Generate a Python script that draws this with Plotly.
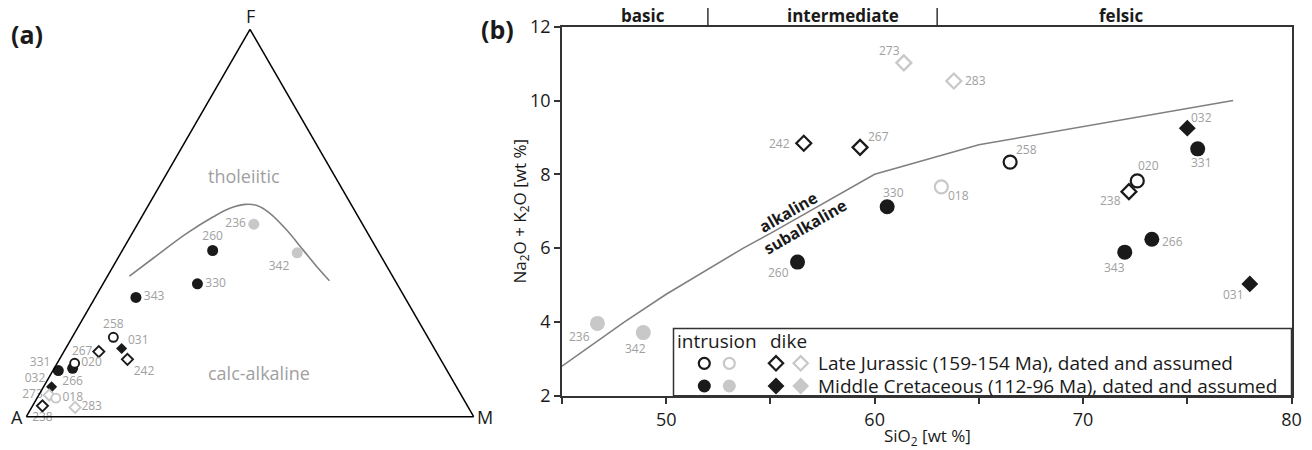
import plotly.graph_objects as go

W, H = 1312, 450
FONT = "Open Sans"
BLACK = "#1a1a1a"
GREY = "#c8c8c8"
LABEL_GREY = "#a0a0a0"
LINE_GREY = "#808080"
AX = "#333333"

# ---------------- data ----------------
samples = ["242", "267", "330", "273", "283", "258", "018", "032", "331",
           "020", "238", "266", "343", "031", "260", "236", "342"]
kind = ["dike", "dike", "intrusion", "dike", "dike", "intrusion", "intrusion", "dike", "intrusion",
        "intrusion", "dike", "intrusion", "intrusion", "dike", "intrusion", "intrusion", "intrusion"]
age = ["LJ", "LJ", "MC", "LJ", "LJ", "LJ", "LJ", "MC", "MC",
       "LJ", "LJ", "MC", "MC", "MC", "MC", "MC", "MC"]
status = ["dated", "dated", "dated", "assumed", "assumed", "dated", "assumed", "dated", "dated",
          "dated", "dated", "dated", "dated", "dated", "dated", "assumed", "assumed"]

# TAS
sio2 = [56.6, 59.3, 60.6, 61.4, 63.8, 66.5, 63.2, 75.0, 75.5,
        72.6, 72.2, 73.3, 72.0, 78.0, 56.3, 46.7, 48.9]
alkali = [8.84, 8.73, 7.12, 11.02, 10.53, 8.33, 7.66, 9.25, 8.69,
          7.82, 7.53, 6.24, 5.89, 5.03, 5.62, 3.96, 3.71]

# AFM (F, A, M in %)
afm_F = [14.8, 16.8, 34.3, 5.6, 2.4, 20.5, 4.8, 7.7, 11.9,
         13.8, 2.8, 12.5, 30.8, 17.6, 42.9, 49.7, 42.3]
afm_A = [70.0, 75.4, 44.6, 92.1, 87.9, 70.3, 91.0, 90.5, 86.9,
         82.3, 95.0, 83.4, 60.1, 69.9, 36.9, 24.3, 18.3]
afm_M = [15.2, 7.8, 21.1, 2.3, 9.7, 9.2, 4.2, 1.8, 1.2,
         3.9, 2.2, 4.1, 9.1, 12.5, 20.2, 26.0, 39.4]

# tholeiitic / calc-alkaline boundary (F, A, M)
bnd_F = [36.3, 40.9, 47.3, 51.6, 53.8, 54.8, 54.5, 52.5, 48.2, 43.0, 38.7, 35.1]
bnd_A = [58.8, 51.2, 40.5, 32.4, 27.6, 23.7, 21.2, 19.3, 17.7, 16.6, 15.7, 14.7]
bnd_M = [4.9, 7.9, 12.2, 16.0, 18.6, 21.5, 24.3, 28.2, 34.1, 40.4, 45.6, 50.2]

# alkaline / subalkaline boundary (SiO2, alkali)
alk_x = [45, 48, 50, 53.7, 55, 60, 65, 77.2]
alk_y = [2.8, 4.0, 4.75, 6.0, 6.4, 8.0, 8.8, 10.0]

x_ticks = [45, 50, 55, 60, 65, 70, 75, 80]
x_ticklabels = ["", "50", "", "60", "", "70", "", "80"]
y_ticks = [2, 4, 6, 8, 10, 12]

groups = [("basic", 45, 52), ("intermediate", 52, 63), ("felsic", 63, 80)]
group_label_x = [48.9, 58.5, 71.8]

# ---------------- styles ----------------
lab_dx = [-24, 18, 6, -14, 22, 16, 17, 14, 4, 11, -18, 21, -10, -16, -19, -18, -8]
lab_dy = [0, -11, -14, -12, 0, -13, 9, -11, 14, -15, 9, 2, 15, 11, 10, 13, 16]
afm_textpos = ["bottom right", "middle left", "middle right", "middle left", "middle right",
               "top center", "middle right", "middle left", "middle left", "middle right",
               "bottom center", "bottom center", "middle right", "middle right", "top center",
               "middle left", "bottom left"]
# labels lifted slightly above their marker (extra blank line)
afm_lift = [False, False, False, False, False, False, False, True, True,
            False, False, False, False, True, False, False, False]


def px2paper(px, py):
    return px / W, 1 - py / H


def marker_style(k, a, s, big):
    col = BLACK if s == "dated" else GREY
    sym = "circle" if k == "intrusion" else "diamond"
    if big:
        size = (13 if a == "LJ" else 15) if sym == "circle" else (11.5 if a == "LJ" else 13)
        lw = 2.2
    else:
        size = (9 if a == "LJ" else 11) if sym == "circle" else 8.5
        lw = 1.9
    if a == "LJ":
        return dict(symbol=sym, size=size, color="white", line=dict(color=col, width=lw))
    return dict(symbol=sym, size=size, color=col, line=dict(color=col, width=0))


order_keys = [("dike", "MC"), ("intrusion", "MC"), ("dike", "LJ"), ("intrusion", "LJ")]

fig = go.Figure()

# ---------- panel a: AFM ternary ----------
fig.add_trace(go.Scatterternary(
    a=bnd_F, b=bnd_A, c=bnd_M, mode="lines",
    line=dict(color=LINE_GREY, width=1.6, shape="spline"),
    hoverinfo="skip", showlegend=False, subplot="ternary"))

for kk, aa in order_keys:
    for ss in ["assumed", "dated"]:
        idx = [i for i in range(len(samples)) if kind[i] == kk and age[i] == aa and status[i] == ss]
        if not idx:
            continue
        fig.add_trace(go.Scatterternary(
            a=[afm_F[i] for i in idx], b=[afm_A[i] for i in idx], c=[afm_M[i] for i in idx],
            mode="markers+text",
            text=[samples[i] + ("<br>\u00a0" if afm_lift[i] else "") for i in idx],
            textposition=[afm_textpos[i] for i in idx],
            textfont=dict(family=FONT, size=12, color=LABEL_GREY),
            marker=marker_style(kk, aa, ss, False),
            cliponaxis=False, showlegend=False, subplot="ternary"))

# ---------- panel b: TAS ----------
fig.add_trace(go.Scatter(
    x=alk_x, y=alk_y, mode="lines", line=dict(color=LINE_GREY, width=1.6),
    hoverinfo="skip", showlegend=False, xaxis="x", yaxis="y"))

for kk, aa in order_keys:
    for ss in ["assumed", "dated"]:
        idx = [i for i in range(len(samples)) if kind[i] == kk and age[i] == aa and status[i] == ss]
        if not idx:
            continue
        fig.add_trace(go.Scatter(
            x=[sio2[i] for i in idx], y=[alkali[i] for i in idx], mode="markers",
            marker=marker_style(kk, aa, ss, True),
            cliponaxis=False, showlegend=False, xaxis="x", yaxis="y"))

annotations = []
for i, s in enumerate(samples):
    annotations.append(dict(
        x=sio2[i], y=alkali[i], xref="x", yref="y", text=s, showarrow=False,
        xanchor="center", yanchor="middle",
        xshift=lab_dx[i], yshift=-lab_dy[i],
        font=dict(family=FONT, size=12, color=LABEL_GREY)))

# ---------- custom legend (overlay axis in paper units) ----------
leg_cols_px = [704.3, 729.3, 776.0, 800.7]
leg_rows_py = [363.3, 386.0]
leg_spec = [("intrusion", "dated"), ("intrusion", "assumed"), ("dike", "dated"), ("dike", "assumed")]
for r, aa in enumerate(["LJ", "MC"]):
    for c, (kk, ss) in enumerate(leg_spec):
        px, py = px2paper(leg_cols_px[c], leg_rows_py[r])
        st = marker_style(kk, aa, ss, True)
        st["size"] = 11 if aa == "LJ" else 13
        fig.add_trace(go.Scatter(x=[px], y=[py], mode="markers", marker=st,
                                 hoverinfo="skip", showlegend=False, xaxis="x3", yaxis="y3"))

shapes = []
lx0, ly0 = px2paper(673.5, 328.5)
lx1, ly1 = px2paper(1291.5, 395.7)
shapes.append(dict(type="rect", xref="paper", yref="paper", x0=lx0, y0=ly1, x1=lx1, y1=ly0,
                   line=dict(color=AX, width=1.5), fillcolor="rgba(0,0,0,0)", layer="above"))


def add_text(txt, px, py, size, color=BLACK, angle=0, xanchor="center"):
    x, y = px2paper(px, py)
    annotations.append(dict(x=x, y=y, xref="paper", yref="paper", text=txt, showarrow=False,
                            xanchor=xanchor, yanchor="middle", textangle=angle,
                            font=dict(family=FONT, size=size, color=color)))


add_text("intrusion", 716.5, 340.5, 19)
add_text("dike", 788.0, 340.5, 19)
add_text("Late Jurassic (159-154 Ma), dated and assumed", 815.5, 363.3, 19, xanchor="left")
add_text("Middle Cretaceous (112-96 Ma), dated and assumed", 815.5, 386.0, 19, xanchor="left")

# group separators and labels
for (name, g0, g1), gx in zip(groups, group_label_x):
    annotations.append(dict(x=gx, y=1 - 15.5 / H, xref="x", yref="paper", text="<b>%s</b>" % name,
                            showarrow=False, xanchor="center", yanchor="middle",
                            font=dict(family=FONT, size=17, color=BLACK)))
for sep in [52, 63]:
    shapes.append(dict(type="line", xref="x", yref="paper", x0=sep, x1=sep,
                       y0=1 - 27 / H, y1=1 - 8 / H, line=dict(color=AX, width=1.5)))

add_text("<b>alkaline</b>", 788.0, 211.5, 16, angle=-30)
add_text("<b>subalkaline</b>", 804.5, 227.0, 16, angle=-30)

add_text("Na<sub>2</sub>O + K<sub>2</sub>O [wt %]", 519.5, 211.0, 17, angle=-90)
add_text("SiO<sub>2</sub> [wt %]", 927.0, 436.0, 17)

add_text("<b>(a)</b>", 26.5, 34.0, 25)
add_text("<b>(b)</b>", 497.5, 28.5, 25)

add_text("F", 250.0, 16.5, 18)
add_text("A", 16.5, 417.0, 18)
add_text("M", 484.5, 417.0, 18)
add_text("tholeiitic", 243.5, 175.5, 18, color=LABEL_GREY)
add_text("calc-alkaline", 258.5, 373.0, 18, color=LABEL_GREY)

# ternary domain (triangle apex at (250, 29.3), base at y=416.7)
tri_h = 387.4
tri_w = tri_h * 2 / 3 ** 0.5
tx0, ty0 = px2paper(250 - tri_w / 2, 416.7)
tx1, ty1 = px2paper(250 + tri_w / 2, 416.7 - tri_h)

tern_axis = dict(showline=True, linecolor="black", linewidth=1.5, showgrid=False,
                 showticklabels=False, ticks="", title=dict(text=""))

fig.update_layout(
    width=W, height=H,
    margin=dict(l=0, r=0, t=0, b=0, pad=0),
    paper_bgcolor="white", plot_bgcolor="rgba(0,0,0,0)",
    font=dict(family=FONT, color=BLACK),
    showlegend=False,
    ternary=dict(domain=dict(x=[tx0, tx1], y=[ty0, ty1]), sum=100, bgcolor="rgba(0,0,0,0)",
                 aaxis=tern_axis, baxis=tern_axis, caxis=tern_axis),
    xaxis=dict(domain=[562 / W, 1291.5 / W], range=[45, 80], anchor="y",
               tickvals=x_ticks, ticktext=x_ticklabels, ticks="outside", ticklen=7,
               tickwidth=1.5, tickcolor=AX, showline=True, linecolor=AX, linewidth=1.5,
               mirror=True, showgrid=False, zeroline=False, automargin=False,
               tickfont=dict(family=FONT, size=18, color=BLACK)),
    yaxis=dict(domain=[1 - 395.7 / H, 1 - 26.7 / H], range=[2, 12], anchor="x",
               tickvals=y_ticks, ticks="outside", ticklen=6,
               tickwidth=1.5, tickcolor=AX, showline=True, linecolor=AX, linewidth=1.5,
               mirror=True, showgrid=False, zeroline=False, automargin=False,
               tickfont=dict(family=FONT, size=18, color=BLACK)),
    xaxis3=dict(domain=[0, 1], range=[0, 1], visible=False, anchor="y3", fixedrange=True),
    yaxis3=dict(domain=[0, 1], range=[0, 1], visible=False, anchor="x3", fixedrange=True),
    shapes=shapes,
    annotations=annotations,
)

fig.write_html("out.html")
